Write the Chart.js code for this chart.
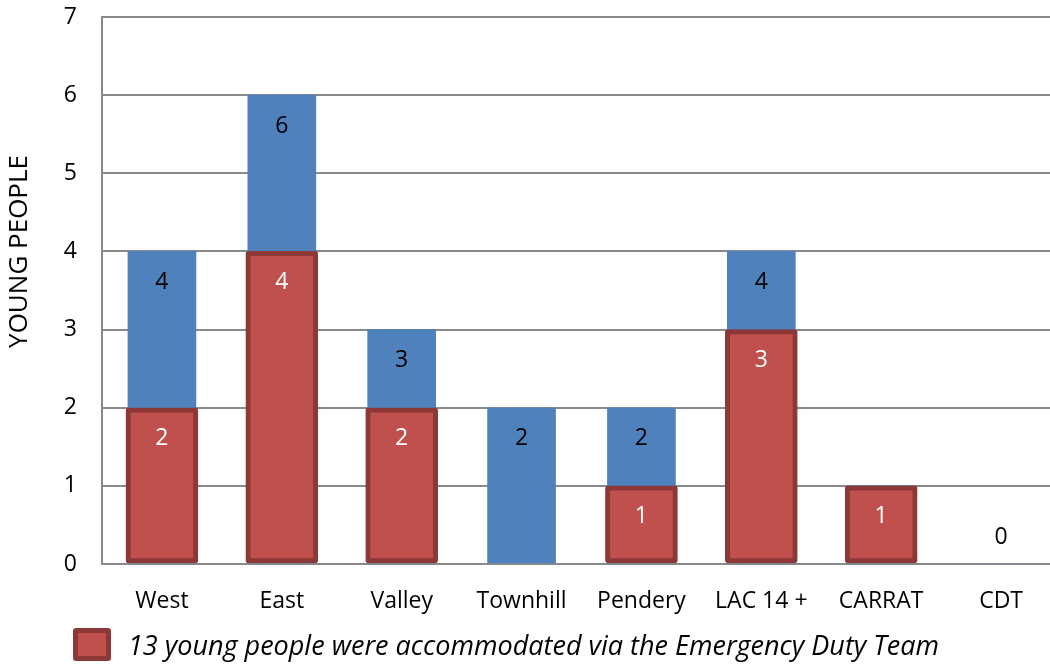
<!DOCTYPE html>
<html>
<head>
<meta charset="utf-8">
<script src="https://cdn.jsdelivr.net/npm/chart.js@4/dist/chart.umd.min.js"></script>
<style>
  html, body { margin: 0; padding: 0; background: #ffffff; overflow: hidden; }
  #wrap { position: absolute; left: 0; top: 0; width: 1064px; height: 668px; }
</style>
</head>
<body>
<div id="wrap"><canvas id="chart"></canvas></div>
<script>
// Teams and the number of young people per team
const categories = ['West', 'East', 'Valley', 'Townhill', 'Pendery', 'LAC 14 +', 'CARRAT', 'CDT'];
const totalYoungPeople = [4, 6, 3, 2, 2, 4, 1, 0];
const viaEmergencyDutyTeam = [2, 4, 2, null, 1, 3, 1, null];
const yTicks = [0, 1, 2, 3, 4, 5, 6, 7];

const edtLabel = '13 young people were accommodated via the Emergency Duty Team';
const axisTitle = 'YOUNG PEOPLE';

const BLUE = '#4F81BD';
const RED = '#C0504D';
const RED_EDGE = '#8C3836';
const GRID = '#8a8a8a';
const FONT = '"Open Sans", "Liberation Sans", sans-serif';

// Value labels drawn right after each dataset so later bars can cover them
const valueLabels = {
  id: 'valueLabels',
  afterDatasetDraw(chart, args) {
    const ds = chart.data.datasets[args.index];
    const meta = args.meta;
    const ctx = chart.ctx;
    const yScale = chart.scales.y;
    ctx.save();
    ctx.font = '23px ' + FONT;
    ctx.textAlign = 'center';
    ctx.textBaseline = 'middle';
    ctx.fillStyle = ds.labelColor;
    meta.data.forEach((bar, i) => {
      const v = ds.data[i];
      if (v === null || v === undefined) return;
      const base = yScale.getPixelForValue(0);
      const y = v === 0 ? base - 27 : bar.y + 31;
      ctx.fillText(String(v), bar.x, y);
    });
    ctx.restore();
  }
};

// Rotated axis title and the single legend entry
const annotations = {
  id: 'annotations',
  afterDraw(chart) {
    const ctx = chart.ctx;
    const yScale = chart.scales.y;
    ctx.save();
    ctx.fillStyle = '#000000';
    ctx.font = '26px ' + FONT;
    ctx.textAlign = 'center';
    ctx.textBaseline = 'middle';
    ctx.translate(20, yScale.getPixelForValue(4));
    ctx.rotate(-Math.PI / 2);
    ctx.fillText(axisTitle, 0, 0);
    ctx.restore();

    const ds = chart.data.datasets[0];
    ctx.save();
    const bx = 73, by = 628, bw = 38, bh = 33;
    ctx.fillStyle = ds.borderColor;
    ctx.beginPath();
    ctx.roundRect(bx, by, bw, bh, 3);
    ctx.fill();
    ctx.fillStyle = ds.backgroundColor;
    ctx.fillRect(bx + 5, by + 5, bw - 10, bh - 10);
    ctx.fillStyle = '#000000';
    ctx.font = 'italic 27px ' + FONT;
    ctx.textAlign = 'left';
    ctx.textBaseline = 'middle';
    ctx.fillText(ds.label, 128, 647);
    ctx.restore();
  }
};

new Chart(document.getElementById('chart'), {
  type: 'bar',
  data: {
    labels: categories,
    datasets: [
      {
        label: edtLabel,
        data: viaEmergencyDutyTeam,
        backgroundColor: RED,
        borderColor: RED_EDGE,
        borderWidth: 5,
        borderSkipped: false,
        borderRadius: 3,
        barThickness: 72,
        grouped: false,
        labelColor: '#ffffff'
      },
      {
        label: 'Young people',
        data: totalYoungPeople,
        backgroundColor: BLUE,
        borderWidth: 0,
        barThickness: 68,
        grouped: false,
        labelColor: '#000000'
      }
    ]
  },
  options: {
    responsive: true,
    maintainAspectRatio: false,
    animation: false,
    layout: { padding: { top: 17, right: 3, bottom: 0, left: 0 } },
    plugins: {
      legend: { display: false },
      tooltip: { enabled: false }
    },
    scales: {
      x: {
        grid: { display: false },
        border: { display: true, color: GRID, width: 2 },
        ticks: {
          color: '#000000',
          font: { family: FONT, size: 23 },
          padding: 16,
          maxRotation: 0
        },
        afterFit(scale) { scale.height = 104; }
      },
      y: {
        min: 0,
        max: 7,
        afterBuildTicks(scale) { scale.ticks = yTicks.map(v => ({ value: v })); },
        grid: { color: GRID, lineWidth: 2, drawTicks: false },
        border: { display: true, color: GRID, width: 2 },
        ticks: {
          color: '#000000',
          font: { family: FONT, size: 23 },
          padding: 25
        },
        afterFit(scale) {
          scale.width = 102;
          scale.paddingTop = 0;
          scale.paddingBottom = 0;
        }
      }
    }
  },
  plugins: [valueLabels, annotations]
});
</script>
</body>
</html>
